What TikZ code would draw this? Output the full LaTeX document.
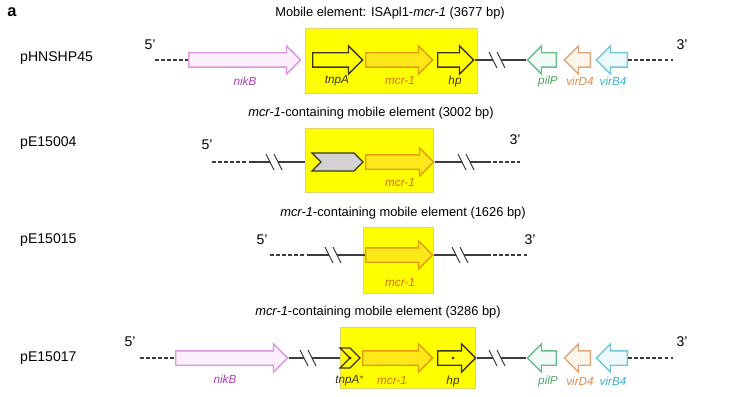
\documentclass[tikz,border=0pt]{standalone}
\usepackage{fontspec}
\setmainfont{Liberation Sans}
\usetikzlibrary{shapes.arrows,shapes.symbols}
\definecolor{MgeYellow}{HTML}{FFFF00}
\definecolor{MgeEdge}{HTML}{E2D36A}
\definecolor{MgeDark}{HTML}{3A3614}
\definecolor{McrFill}{HTML}{FFE81A}
\definecolor{McrEdge}{HTML}{E39B00}
\definecolor{McrText}{HTML}{E36A00}
\definecolor{NikEdge}{HTML}{DB94E2}
\definecolor{NikFill}{HTML}{FCEEFC}
\definecolor{NikText}{HTML}{B03EB4}
\definecolor{PilEdge}{HTML}{6BBB8C}
\definecolor{PilFill}{HTML}{F0FAF6}
\definecolor{PilText}{HTML}{4FA463}
\definecolor{VirDEdge}{HTML}{E2A679}
\definecolor{VirDFill}{HTML}{FDF4EC}
\definecolor{VirDText}{HTML}{E08A4C}
\definecolor{VirBEdge}{HTML}{74C7D8}
\definecolor{VirBFill}{HTML}{EEF9FB}
\definecolor{VirBText}{HTML}{3FAFD0}
\definecolor{LineGray}{HTML}{3C3C3C}
\def\px{0.03cm}
\tikzset{
  rowname/.style={font=\fontsize{12}{14}\selectfont, anchor=west, inner sep=0pt},
  figtitle/.style={font=\fontsize{11}{13}\selectfont, inner sep=0pt},
  endmark/.style={font=\fontsize{12}{14}\selectfont, inner sep=0pt},
  glabel/.style={font=\fontsize{10}{12}\selectfont\itshape, inner sep=0pt},
  mebox/.style={draw=MgeEdge, fill=MgeYellow, line width=0.6pt, inner sep=0pt},
  gene/.style={single arrow, draw, inner xsep=0pt, inner ysep=6.5*\px,
               single arrow head extend=7*\px, line width=1.1pt, anchor=tail},
  len/.style={minimum height=#1*\px},
  leftward/.style={shape border rotate=180},
  tnp/.style={gene, draw=MgeDark, fill=MgeYellow},
  mcr/.style={gene, draw=McrEdge, fill=McrFill},
  nik/.style={gene, draw=NikEdge, fill=NikFill},
  pil/.style={gene, leftward, draw=PilEdge, fill=PilFill},
  vird/.style={gene, leftward, draw=VirDEdge, fill=VirDFill},
  virb/.style={gene, leftward, draw=VirBEdge, fill=VirBFill},
  chevron/.style={signal, signal to=east, signal from=west, draw=MgeDark,
                  inner sep=0pt, line width=1.1pt},
  bbone/.style={LineGray, line width=0.9pt},
  dashbone/.style={LineGray, line width=0.9pt, dash pattern=on 3pt off 2.2pt},
  cutline/.style={LineGray, line width=0.9pt},
}
\newcommand{\gapmark}[3]{%
  \coordinate (#1w) at ({#2-4},#3);
  \coordinate (#1e) at ({#2+4},#3);
  \draw[cutline] ({#2-8},{#3-8}) -- (#2,{#3+8});
  \draw[cutline] (#2,{#3-8}) -- ({#2+8},{#3+8});
}

\begin{document}
\begin{tikzpicture}[x=\px, y=-\px]
  \useasboundingbox (0,0) rectangle (733,397);

  \node[font=\fontsize{14}{16}\selectfont\bfseries] (tag) at (12,12) {a};

  % ---- pHNSHP45
  \node[figtitle] (t1) at (390,13) {Mobile element: ISApl1-\textit{mcr-1} (3677 bp)};
  \node[rowname] (n1) at (20,58) {pHNSHP45};
  \node[mebox, minimum width=172*\px, minimum height=65*\px] (me1) at (391,60.5) {};
  \node[endmark] (p1) at (150,45) {5'};
  \node[endmark] (q1) at (682,45) {3'};
  \coordinate (d1a) at (155,60);
  \coordinate (d1b) at (673,60);
  \node[nik, len=112] (nikB1) at (188,60) {};
  \node[tnp, len=50] (tnpA1) at (312,60) {};
  \node[mcr, len=67] (mcr1) at (365,60) {};
  \node[tnp, len=36] (hp1) at (437,60) {};
  \node[pil, len=29] (pilP1) at (557,60) {};
  \node[vird, len=26] (virD1) at (591,60) {};
  \node[virb, len=31] (virB1) at (628,60) {};
  \gapmark{g1}{497}{60}
  \draw[dashbone] (d1a) -- (nikB1.tail);
  \draw[bbone] (hp1.tip) -- (g1w);
  \draw[bbone] (g1e) -- (pilP1.tip);
  \draw[dashbone] (virB1.tail) -- (d1b);
  \node[glabel, text=NikText] at (245,81) {nikB};
  \node[glabel, text=MgeDark] at (337,81) {tnpA};
  \node[glabel, text=McrText] at (400,81) {mcr-1};
  \node[glabel, text=MgeDark] at (455,81) {hp};
  \node[glabel, text=PilText] at (548,81) {pilP};
  \node[glabel, text=VirDText] at (580,81) {virD4};
  \node[glabel, text=VirBText] at (613,81) {virB4};

  % ---- pE15004
  \node[figtitle] (t2) at (371,113) {\textit{mcr-1}-containing mobile element (3002 bp)};
  \node[rowname] (n2) at (20,143) {pE15004};
  \node[mebox, minimum width=128*\px, minimum height=64*\px] (me2) at (369,160) {};
  \node[endmark] (p2) at (207,145) {5'};
  \node[endmark] (q2) at (515,140) {3'};
  \coordinate (d2a) at (212,162);
  \coordinate (d2b) at (250,162);
  \coordinate (d2c) at (487,162);
  \coordinate (d2d) at (520,162);
  \node[chevron, fill=gray!35, minimum width=51*\px, minimum height=18*\px] (orf2) at (337.5,162) {};
  \node[mcr, len=68] (mcr2) at (365,162) {};
  \gapmark{g2}{274}{162}
  \gapmark{g3}{466}{162}
  \draw[dashbone] (d2a) -- (d2b);
  \draw[bbone] (d2b) -- (g2w);
  \draw[bbone] (g2e) -- (me2.west |- g2e);
  \draw[bbone] (mcr2.tip) -- (g3w);
  \draw[bbone] (g3e) -- (d2c);
  \draw[dashbone] (d2c) -- (d2d);
  \node[glabel, text=McrText] at (400,183) {mcr-1};

  % ---- pE15015
  \node[figtitle] (t3) at (403,213) {\textit{mcr-1}-containing mobile element (1626 bp)};
  \node[rowname] (n3) at (20,240) {pE15015};
  \node[mebox, minimum width=70*\px, minimum height=66*\px] (me3) at (398,260) {};
  \node[endmark] (p3) at (262,240) {5'};
  \node[endmark] (q3) at (530,240) {3'};
  \coordinate (d3a) at (270,255);
  \coordinate (d3b) at (310,255);
  \coordinate (d3c) at (487,255);
  \coordinate (d3d) at (528,255);
  \node[mcr, len=67] (mcr3) at (365,255) {};
  \gapmark{g4}{333}{255}
  \gapmark{g5}{460}{255}
  \draw[dashbone] (d3a) -- (d3b);
  \draw[bbone] (d3b) -- (g4w);
  \draw[bbone] (g4e) -- (mcr3.tail);
  \draw[bbone] (mcr3.tip) -- (g5w);
  \draw[bbone] (g5e) -- (d3c);
  \draw[dashbone] (d3c) -- (d3d);
  \node[glabel, text=McrText] at (400,283) {mcr-1};

  % ---- pE15017
  \node[figtitle] (t4) at (378,312) {\textit{mcr-1}-containing mobile element (3286 bp)};
  \node[rowname] (n4) at (20,358) {pE15017};
  \node[mebox, minimum width=135*\px, minimum height=61*\px] (me4) at (407.5,357.5) {};
  \node[endmark] (p4) at (130,342) {5'};
  \node[endmark] (q4) at (682,342) {3'};
  \coordinate (d4a) at (140,358);
  \coordinate (d4b) at (673,358);
  \node[nik, len=112] (nikB4) at (175,358) {};
  \node[chevron, fill=MgeYellow, minimum width=16*\px, minimum height=20*\px] (tnpA4) at (350,358) {};
  \node[mcr, len=70] (mcr4) at (362,358) {};
  \node[tnp, len=38] (hp4) at (437,358) {};
  \node[pil, len=29] (pilP4) at (557,358) {};
  \node[vird, len=26] (virD4) at (591,358) {};
  \node[virb, len=31] (virB4) at (628,358) {};
  \fill[MgeDark] (tnpA4.center) circle (1.3pt);
  \fill[MgeDark] (hp4.center) circle (1.3pt);
  \gapmark{g6}{308}{358}
  \gapmark{g7}{497}{358}
  \draw[dashbone] (d4a) -- (nikB4.tail);
  \draw[bbone] (nikB4.tip) -- (g6w);
  \draw[bbone] (g6e) -- (me4.west |- g6e);
  \draw[bbone] (hp4.tip) -- (g7w);
  \draw[bbone] (g7e) -- (pilP4.tip);
  \draw[dashbone] (virB4.tail) -- (d4b);
  \node[glabel, text=NikText] at (225,379) {nikB};
  \node[glabel, text=MgeDark] at (350,381) {tnpA$^{*}$};
  \node[glabel, text=McrText] at (392,381) {mcr-1};
  \node[glabel, text=MgeDark] at (453,381) {hp};
  \node[glabel, text=PilText] at (548,381) {pilP};
  \node[glabel, text=VirDText] at (580,381) {virD4};
  \node[glabel, text=VirBText] at (613,381) {virB4};
\end{tikzpicture}
\end{document}
